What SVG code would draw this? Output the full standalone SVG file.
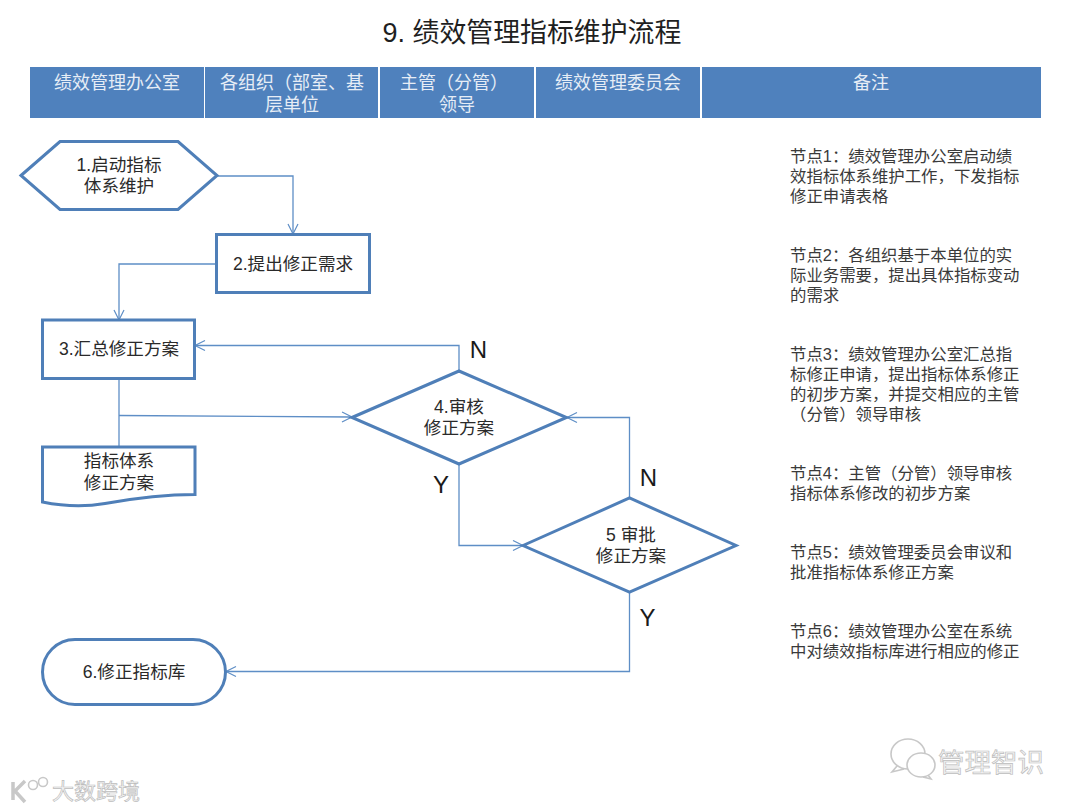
<svg xmlns="http://www.w3.org/2000/svg" width="1080" height="810" viewBox="0 0 1080 810">
<style>
text{font-family:"Liberation Sans","Noto Sans CJK SC",sans-serif}
.hb{fill:#4f81bd}
.ht{fill:#e6edf6;font-size:18px;text-anchor:middle}
.n{fill:#fff;stroke:#4f7fb8;stroke-width:3;stroke-linejoin:miter}
.nt{fill:#2a2a2a;font-size:17.6px;text-anchor:middle}
.c{fill:none;stroke:#5e8ec6;stroke-width:1.3}
.yn{fill:#1a1a1a;font-size:24px;text-anchor:middle}
.note{fill:#3a3a3a;font-size:16.4px}
.wm{fill:#f4f4f4;stroke:#bdbdbd;stroke-width:.7}
.wl{fill:none;stroke:#c8c8c8;stroke-width:1.6}
</style>
<defs>
<marker id="arr" markerUnits="userSpaceOnUse" markerWidth="14" markerHeight="14" refX="11" refY="6" orient="auto">
<path d="M1 1 L11 6 L1 11" fill="none" stroke="#5e8ec6" stroke-width="1.2"/>
</marker>
</defs>
<rect width="1080" height="810" fill="#fff"/>
<text id="title" x="532" y="42" font-size="26.9" fill="#1f1f1f" text-anchor="middle">9. 绩效管理指标维护流程</text>
<g id="header">
<rect class="hb" x="30" y="67" width="174" height="51"/>
<rect class="hb" x="205" y="67" width="173" height="51"/>
<rect class="hb" x="380" y="67" width="154" height="51"/>
<rect class="hb" x="536" y="67" width="164" height="51"/>
<rect class="hb" x="702" y="67" width="339" height="51"/>
<text class="ht" x="117" y="89">绩效管理办公室</text>
<text class="ht" x="292" y="89">各组织（部室、基</text>
<text class="ht" x="292" y="111">层单位</text>
<text class="ht" x="454" y="89">主管（分管）</text>
<text class="ht" x="457" y="111">领导</text>
<text class="ht" x="618" y="89">绩效管理委员会</text>
<text class="ht" x="871" y="89">备注</text>
</g>
<g id="connectors">
<path class="c" marker-end="url(#arr)" d="M217 176H293V234"/>
<path class="c" marker-end="url(#arr)" d="M216 264H119V320"/>
<path class="c" marker-end="url(#arr)" d="M459 371V345.500H195"/>
<path class="c" d="M119 379V447" stroke-width="1.6"/>
<path class="c" marker-end="url(#arr)" d="M119 415.500L352 417"/>
<path class="c" marker-end="url(#arr)" d="M459 464V545.500H523"/>
<path class="c" marker-end="url(#arr)" d="M629.500 498V417.500H567"/>
<path class="c" marker-end="url(#arr)" d="M629.500 592V671.500H226"/>
</g>
<g id="node1"><polygon class="n" points="21,175.500 60,141.500 178,141.500 217,175.500 178,209.500 60,209.500"/>
<text class="nt" x="119" y="171">1.启动指标</text><text class="nt" x="119" y="192">体系维护</text></g>
<g id="node2"><rect class="n" x="216.500" y="234.500" width="153" height="58"/>
<text class="nt" x="293" y="270">2.提出修正需求</text></g>
<g id="node3"><rect class="n" x="42.500" y="320" width="152" height="58.500"/>
<text class="nt" x="119" y="355">3.汇总修正方案</text></g>
<g id="doc"><path class="n" d="M42.500 447H195V494.500C160 494.500 130 499 105 503.500C85 507 62 506 42.500 502Z"/>
<text class="nt" x="119" y="467">指标体系</text><text class="nt" x="119" y="489">修正方案</text></g>
<g id="node4"><polygon class="n" points="352,417.500 459,371 566.500,417.500 459,464"/>
<text class="nt" x="459" y="413">4.审核</text><text class="nt" x="459" y="434">修正方案</text></g>
<g id="node5"><polygon class="n" points="523,545.500 629.500,498 736,545.500 629.500,592"/>
<text class="nt" x="631" y="541">5 审批</text><text class="nt" x="631" y="562">修正方案</text></g>
<g id="node6"><rect class="n" x="42.500" y="639.500" width="183" height="65" rx="32.500"/>
<text class="nt" x="134" y="678">6.修正指标库</text></g>
<g id="labels">
<text class="yn" x="478.500" y="358">N</text>
<text class="yn" x="441" y="493">Y</text>
<text class="yn" x="648.500" y="486">N</text>
<text class="yn" x="647.500" y="626">Y</text>
</g>
<g id="notes">
<text class="note" y="162"><tspan x="790">节点1：绩效管理办公室启动绩</tspan><tspan x="790" dy="20">效指标体系维护工作，下发指标</tspan><tspan x="790" dy="20">修正申请表格</tspan></text>
<text class="note" y="261"><tspan x="790">节点2：各组织基于本单位的实</tspan><tspan x="790" dy="20">际业务需要，提出具体指标变动</tspan><tspan x="790" dy="20">的需求</tspan></text>
<text class="note" y="360"><tspan x="790">节点3：绩效管理办公室汇总指</tspan><tspan x="790" dy="20">标修正申请，提出指标体系修正</tspan><tspan x="790" dy="20">的初步方案，并提交相应的主管</tspan><tspan x="790" dy="20">（分管）领导审核</tspan></text>
<text class="note" y="479"><tspan x="790">节点4：主管（分管）领导审核</tspan><tspan x="790" dy="20">指标体系修改的初步方案</tspan></text>
<text class="note" y="558"><tspan x="790">节点5：绩效管理委员会审议和</tspan><tspan x="790" dy="20">批准指标体系修正方案</tspan></text>
<text class="note" y="637"><tspan x="790">节点6：绩效管理办公室在系统</tspan><tspan x="790" dy="20">中对绩效指标库进行相应的修正</tspan></text>
</g>
<g id="watermarks">
<path class="wl" d="M13 782V800M25 781L15 791L25 802" style="stroke-width:3.500"/>
<circle class="wl" cx="33" cy="785" r="4.500"/><circle class="wl" cx="43" cy="782" r="4.500"/>
<text class="wm" x="52" y="799" style="font-size:22px">大数跨境</text>
<ellipse class="wl" cx="908" cy="754" rx="17" ry="15" style="fill:#fff"/>
<path class="wl" d="M897 766L892 772L904 769"/>
<ellipse class="wl" cx="921" cy="765" rx="14" ry="12" style="fill:#fff"/>
<path class="wl" d="M928 775L931 779L923 777"/>
<text class="wm" x="938" y="772" style="font-size:26.500px">管理智识</text>
</g>
</svg>
